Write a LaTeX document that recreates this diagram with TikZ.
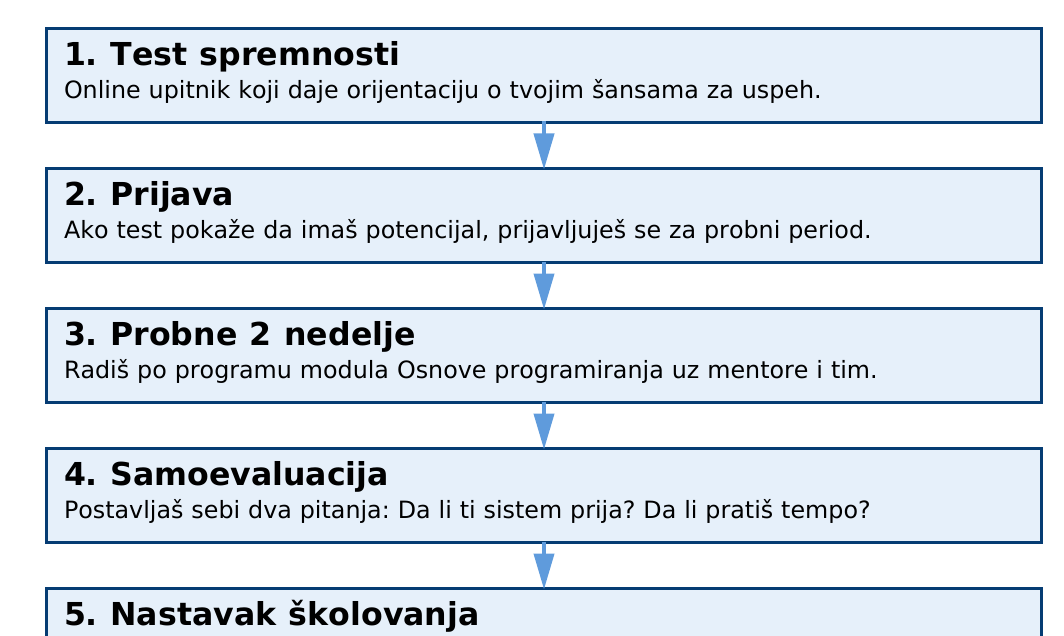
\documentclass[tikz,border=0pt]{standalone}
\usepackage{fontspec}
\setmainfont{DejaVu Sans}[Kerning=Off]
\usepackage{xcolor}
\usepackage{tikz}
\usetikzlibrary{arrows.meta}
\usetikzlibrary{shapes,positioning}

\definecolor{stepfill}{RGB}{230,240,250}
\definecolor{stepline}{RGB}{5,60,115}
\definecolor{flowarrow}{RGB}{95,155,220}

\frenchspacing
\newcommand{\steptitle}[1]{\rule{0pt}{24pt}{\fontsize{31.6}{33.5}\selectfont\bfseries\spaceskip=12.5pt #1}}
\newcommand{\stepbody}[1]{#1\rule[-11.5pt]{0pt}{11.5pt}}

\begin{document}
\begin{tikzpicture}[%
      x=1pt, y=1pt,
      node distance=46pt,
      stepbox/.style={rectangle, draw=stepline, fill=stepfill, line width=3pt,
        text width=960pt, inner xsep=17.5pt, inner ysep=0pt, minimum height=94pt,
        outer sep=0pt, align=left, font=\fontsize{23.8}{33.5}\selectfont},
      flow/.style={draw=flowarrow, line width=4pt,
        -{Triangle[width=20pt,length=36pt]}, shorten >=-1pt, shorten <=-1pt}]
      \useasboundingbox (0,0) rectangle (1064,-636);
      \clip (0,0) rectangle (1064,-636);
      \node[stepbox] (test) at (544,-75.5)
        {\steptitle{1. Test spremnosti}\\
         \stepbody{Online upitnik koji daje orijentaciju o tvojim šansama za uspeh.}};
      \node[stepbox, below=of test] (prijava)
        {\steptitle{2. Prijava}\\
         \stepbody{Ako test pokaže da imaš potencijal, prijavljuješ se za probni period.}};
      \node[stepbox, below=of prijava] (probne)
        {\steptitle{3. Probne 2 nedelje}\\
         \stepbody{Radiš po programu modula Osnove programiranja uz mentore i tim.}};
      \node[stepbox, below=of probne] (samoeval)
        {\steptitle{4. Samoevaluacija}\\
         \stepbody{Postavljaš sebi dva pitanja: Da li ti sistem prija? Da li pratiš tempo?}};
      \node[stepbox, below=of samoeval] (nastavak)
        {\steptitle{5. Nastavak školovanja}\\
         \stepbody{}};
      \draw[flow] (test) -- (prijava);
      \draw[flow] (prijava) -- (probne);
      \draw[flow] (probne) -- (samoeval);
      \draw[flow] (samoeval) -- (nastavak);
    \end{tikzpicture}
\end{document}
